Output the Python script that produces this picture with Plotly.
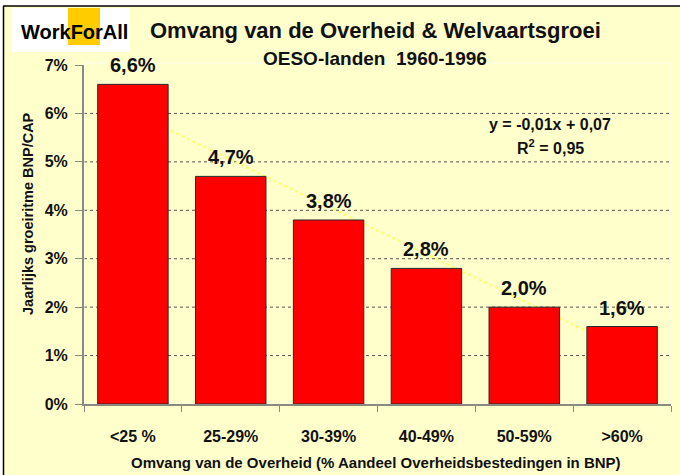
import numpy as np
import plotly.graph_objects as go

categories = ["<25 %", "25-29%", "30-39%", "40-49%", "50-59%", ">60%"]
growth = [6.6, 4.7, 3.8, 2.8, 2.0, 1.6]
y_ticks = [0, 1, 2, 3, 4, 5, 6, 7]
grid_vals = [1, 2, 3, 4, 5, 6]

title = "Omvang van de Overheid & Welvaartsgroei"
subtitle = "OESO-landen  1960-1996"
x_title = "Omvang van de Overheid (% Aandeel Overheidsbestedingen in BNP)"
y_title = "Jaarlijks groeiritme BNP/CAP"
eq_text = "y = -0,01x + 0,07"
r2_text = "R<sup>2</sup> = 0,95"
logo_text = "<b>WorkForAll</b>"

W, H = 680, 475
L, R, T, B = 84, 9, 65, 71
PW, PH = W - L - R, H - T - B


def px(x):
    return (x - L) / PW


def py(y):
    return (H - B - y) / PH


FONT = "Liberation Sans, Arial, sans-serif"


def esc(s):
    return s.replace("<", "&lt;").replace(">", "&gt;")


def fmt(v):
    return f"{v:.1f}".replace(".", ",") + "%"


def bold(size, color="#111", family=FONT):
    return dict(family=family, size=size, color=color, weight="bold")


fig = go.Figure()
fig.add_trace(go.Bar(
    x=categories, y=growth,
    marker=dict(color="#FF0000", line=dict(color="#2a2a2a", width=1)),
    hoverinfo="x+y",
))

shapes = []
for g in grid_vals:
    shapes.append(dict(type="line", xref="paper", yref="y", x0=0, x1=1, y0=g, y1=g,
                       line=dict(color="#555555", width=1, dash="dot"), layer="below"))
# linear trendline fitted to the data
xs = np.arange(1, len(growth) + 1)
slope, intercept = np.polyfit(xs, growth, 1)
shapes.append(dict(type="line", xref="x", yref="y", x0=0, x1=len(growth) - 1,
                   y0=slope * 1 + intercept, y1=slope * len(growth) + intercept,
                   line=dict(color="#FFFF66", width=2, dash="dot"), layer="below"))
shapes.append(dict(type="rect", xref="paper", yref="paper", x0=0, x1=px(671), y0=0, y1=py(63),
                   line=dict(color="#FFFFEE", width=1), layer="below"))
shapes.append(dict(type="rect", xref="paper", yref="paper", x0=px(0), x1=px(W), y0=py(0), y1=py(6),
                   fillcolor="white", line=dict(width=0)))
shapes.append(dict(type="rect", xref="paper", yref="paper", x0=px(0), x1=px(3), y0=py(0), y1=py(H),
                   fillcolor="white", line=dict(width=0)))
shapes.append(dict(type="line", xref="paper", yref="paper", x0=px(3), x1=px(W), y0=py(6), y1=py(6),
                   line=dict(color="black", width=1.5)))
shapes.append(dict(type="line", xref="paper", yref="paper", x0=px(3.5), x1=px(3.5), y0=py(6), y1=py(H),
                   line=dict(color="black", width=1.5)))
shapes.append(dict(type="rect", xref="paper", yref="paper", x0=px(12), x1=px(130), y0=py(52), y1=py(8),
                   fillcolor="white", line=dict(width=0)))
shapes.append(dict(type="rect", xref="paper", yref="paper", x0=px(68), x1=px(100), y0=py(45), y1=py(8),
                   fillcolor="#FFCC00", line=dict(width=0)))


def ann(x, y, text, font, **kw):
    d = dict(x=px(x), y=py(y), xref="paper", yref="paper", text=text, showarrow=False,
             xanchor="center", yanchor="middle", font=font)
    d.update(kw)
    return d


annotations = []
for c, v in zip(categories, growth):
    annotations.append(dict(x=c, y=v, xref="x", yref="y", text=fmt(v), showarrow=False,
                            xanchor="center", yanchor="middle", yshift=19, font=bold(20)))
annotations += [
    ann(375, 31, title, bold(22)),
    ann(375, 58, subtitle, bold(19)),
    ann(550, 124, eq_text, bold(16)),
    ann(550, 147, r2_text, bold(16)),
    ann(376, 462, x_title, bold(15)),
    ann(28, 214, y_title, bold(14.5), textangle=-90),
    ann(19, 32, logo_text, bold(20, "black"), xanchor="left"),
]

fig.update_layout(
    width=W, height=H,
    margin=dict(l=L, r=R, t=T, b=B, pad=0),
    paper_bgcolor="#FFFFCC", plot_bgcolor="#FFFFCC",
    showlegend=False, bargap=0.28,
    shapes=shapes, annotations=annotations,
    xaxis=dict(tickvals=categories, ticktext=[esc(c) for c in categories],
               showline=True, linecolor="#8a8a80", linewidth=2,
               ticks="outside", tickson="boundaries", ticklen=6, tickcolor="#8a8a80",
               ticklabelstandoff=17, showgrid=False,
               tickfont=bold(16)),
    yaxis=dict(range=[0, 7], tickvals=y_ticks, ticktext=[f"{v}%" for v in y_ticks],
               showline=True, linecolor="#8a8a80", linewidth=2,
               ticks="outside", ticklen=7, tickcolor="#8a8a80", ticklabelstandoff=4,
               showgrid=False, zeroline=False,
               tickfont=bold(16)),
)

fig.write_html("out.html", config={"displayModeBar": False},
               post_script="document.body.style.margin='0px';")
